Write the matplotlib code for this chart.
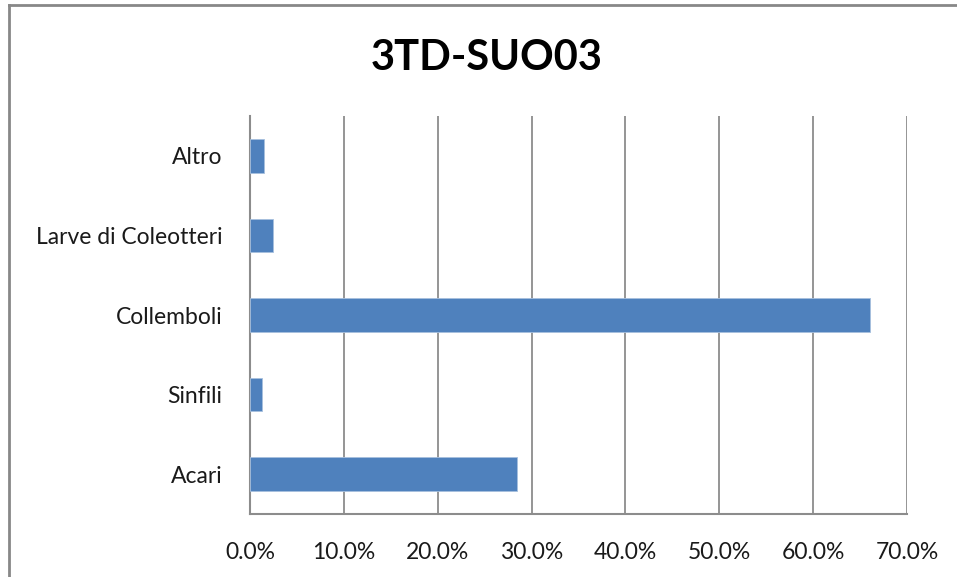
import numpy as np
import matplotlib
matplotlib.use('Agg')
import matplotlib.pyplot as plt
from matplotlib.lines import Line2D
from matplotlib.ticker import FuncFormatter

categories = ['Acari', 'Sinfili', 'Collemboli', 'Larve di Coleotteri', 'Altro']
values = [28.4, 1.3, 66.1, 2.4, 1.5]
xticks = [0, 10, 20, 30, 40, 50, 60, 70]

plt.rcParams['font.family'] = ['Lato', 'DejaVu Sans']

W, H = 957, 577
fig = plt.figure(figsize=(W / 100, H / 100), dpi=100)
ax = fig.add_axes([250 / W, 1 - 514 / H, (907 - 250) / W, (514 - 116) / H])

y = np.arange(len(categories))
ax.barh(y, values, height=0.42, color='#4F81BD', edgecolor='#A7C0DE', linewidth=0.6, zorder=3)

ax.set_xlim(0, 70)
ax.set_ylim(-0.5, len(categories) - 0.5)
ax.set_xticks(xticks)
ax.xaxis.set_major_formatter(FuncFormatter(lambda v, p: '%.1f%%' % v))
ax.set_yticks(y)
ax.set_yticklabels(categories)
ax.tick_params(axis='both', length=0, labelsize=16.5, colors='#1a1a1a')
ax.tick_params(axis='x', pad=20)
ax.tick_params(axis='y', pad=20)

ax.grid(axis='x', color='#8C8C8C', linewidth=1.3, zorder=0)
for s in ['top', 'right']:
    ax.spines[s].set_visible(False)
for s in ['left', 'bottom']:
    ax.spines[s].set_color('#8C8C8C')
    ax.spines[s].set_linewidth(1.5)

fig.text(487 / W, 1 - 58 / H, '3TD-SUO03', ha='center', va='center',
         fontsize=30, fontweight='bold', color='black')

# outer chart border (left and top visible)
fig.add_artist(Line2D([8.5 / W, 8.5 / W], [0, 1 - 5 / H], transform=fig.transFigure,
                      color='#888888', linewidth=2))
fig.add_artist(Line2D([8.5 / W, 1], [1 - 5 / H, 1 - 5 / H], transform=fig.transFigure,
                      color='#888888', linewidth=2))

fig.savefig('out.png', dpi=100)
